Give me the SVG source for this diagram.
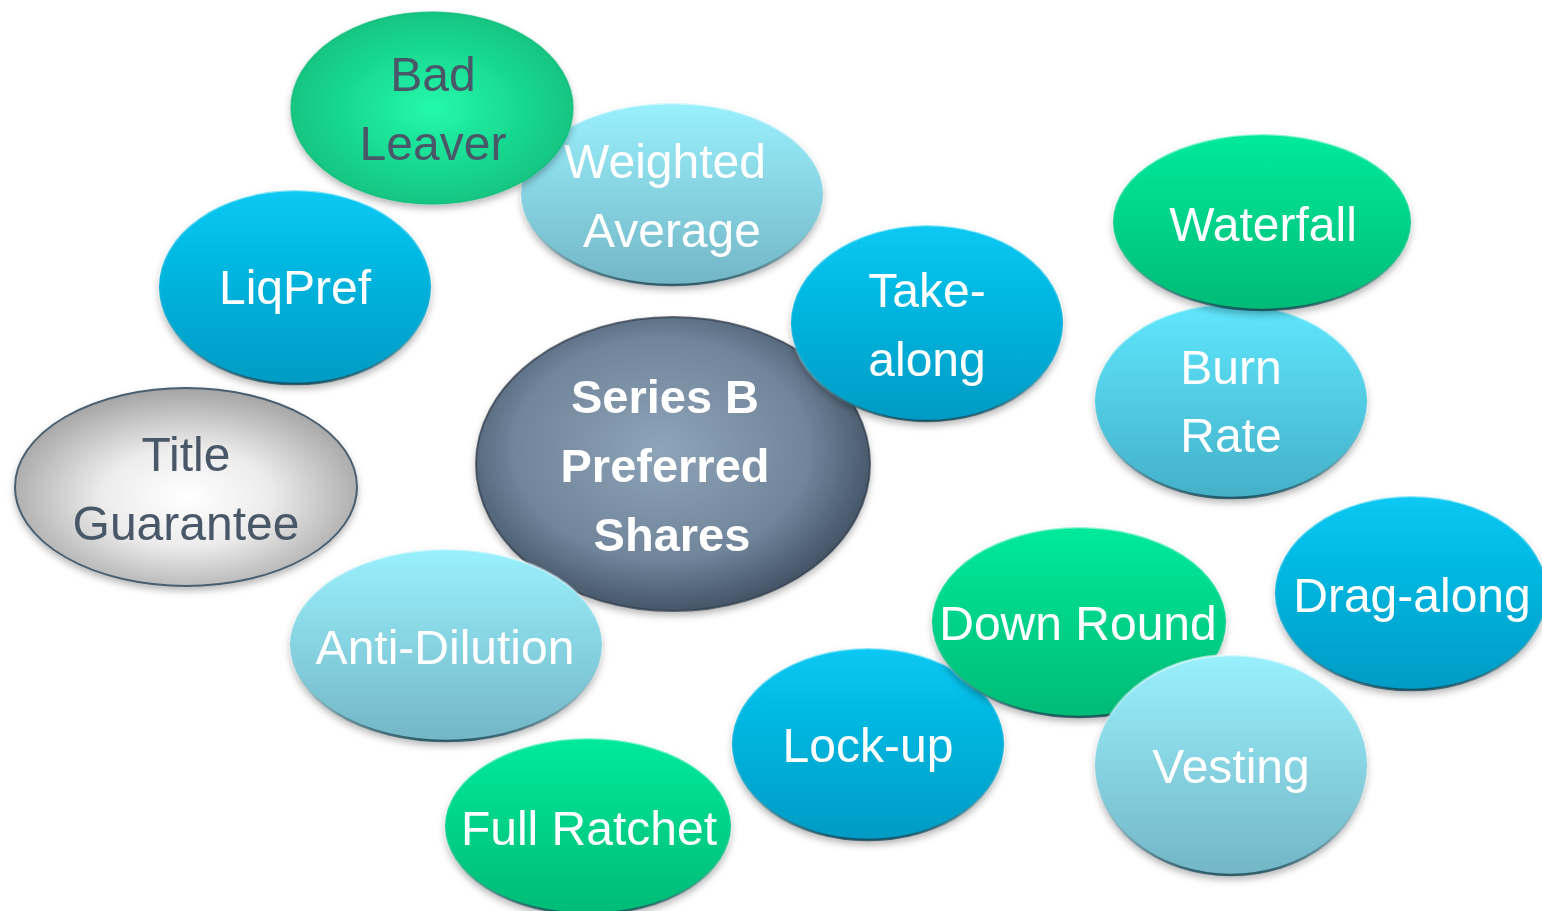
<svg xmlns="http://www.w3.org/2000/svg" width="1542" height="911" viewBox="0 0 1542 911">
<defs>
  <style>
    .t{font-family:"Liberation Sans",Arial,sans-serif;font-size:48px;text-anchor:middle;fill:#ffffff}
    .d{fill:#4a5868}
    .b{font-weight:bold;font-size:47px}
    .rim{stroke:url(#rim);stroke-width:2.5}
  </style>
  <filter id="sh" x="-10%" y="-10%" width="120%" height="125%">
    <feDropShadow dx="0" dy="4" stdDeviation="3.5" flood-color="#000" flood-opacity="0.28"/>
  </filter>
  <linearGradient id="rim" x1="0" y1="0" x2="0" y2="1">
    <stop offset="0" stop-color="#ffffff" stop-opacity="0.55"/>
    <stop offset="0.5" stop-color="#ffffff" stop-opacity="0"/>
    <stop offset="1" stop-color="#0a3a48" stop-opacity="0.75"/>
  </linearGradient>
  <linearGradient id="blue" x1="0" y1="0" x2="0" y2="1">
    <stop offset="0" stop-color="#07c9f3"/>
    <stop offset="1" stop-color="#049bc4"/>
  </linearGradient>
  <linearGradient id="cyan" x1="0" y1="0" x2="0" y2="1">
    <stop offset="0" stop-color="#9af0fd"/>
    <stop offset="1" stop-color="#73b6c6"/>
  </linearGradient>
  <linearGradient id="burn" x1="0" y1="0" x2="0" y2="1">
    <stop offset="0" stop-color="#5fe7fe"/>
    <stop offset="1" stop-color="#44b0c8"/>
  </linearGradient>
  <linearGradient id="green" x1="0" y1="0" x2="0" y2="1">
    <stop offset="0" stop-color="#06ea9b"/>
    <stop offset="1" stop-color="#05bb77"/>
  </linearGradient>
  <radialGradient id="bad" cx="0.5" cy="0.5" r="0.55">
    <stop offset="0" stop-color="#24f9ab"/>
    <stop offset="1" stop-color="#10c07d"/>
  </radialGradient>
  <radialGradient id="gray" cx="0.5" cy="0.55" r="0.55">
    <stop offset="0" stop-color="#ffffff"/>
    <stop offset="0.45" stop-color="#ececec"/>
    <stop offset="1" stop-color="#a4a4a4"/>
  </radialGradient>
  <radialGradient id="slate" cx="0.47" cy="0.45" r="0.58">
    <stop offset="0" stop-color="#8ea4b8"/>
    <stop offset="0.65" stop-color="#70849a"/>
    <stop offset="1" stop-color="#3e4e5f"/>
  </radialGradient>
</defs>
<rect width="1542" height="911" fill="#ffffff"/>
<g id="connectors"></g>

<g id="weighted-average" filter="url(#sh)">
  <ellipse cx="672" cy="194" rx="151" ry="91" fill="url(#cyan)" class="rim"/>
  <text class="t" x="665" y="178">Weighted</text>
  <text class="t" x="672" y="247">Average</text>
</g>
<g id="bad-leaver" filter="url(#sh)">
  <ellipse cx="432" cy="108" rx="141" ry="96" fill="url(#bad)" stroke="#0fb874" stroke-opacity="0.6" stroke-width="1.5"/>
  <text class="t d" x="433" y="91">Bad</text>
  <text class="t d" x="433" y="160">Leaver</text>
</g>
<g id="liqpref" filter="url(#sh)">
  <ellipse cx="295" cy="287" rx="136" ry="97" fill="url(#blue)" class="rim"/>
  <text class="t" x="295" y="304">LiqPref</text>
</g>
<g id="title-guarantee" filter="url(#sh)">
  <ellipse cx="186" cy="487" rx="171" ry="99" fill="url(#gray)" stroke="#4a5f6f" stroke-width="2"/>
  <text class="t d" x="186" y="471">Title</text>
  <text class="t d" x="186" y="540">Guarantee</text>
</g>
<g id="series-b" filter="url(#sh)">
  <ellipse cx="673" cy="464" rx="197" ry="147" fill="url(#slate)" stroke="#2e3b48" stroke-opacity="0.7" stroke-width="2"/>
  <text class="t b" x="665" y="413">Series B</text>
  <text class="t b" x="665" y="482">Preferred</text>
  <text class="t b" x="672" y="551">Shares</text>
</g>
<g id="take-along" filter="url(#sh)">
  <ellipse cx="927" cy="323" rx="136" ry="98" fill="url(#blue)" class="rim"/>
  <text class="t" x="927" y="307">Take-</text>
  <text class="t" x="927" y="376">along</text>
</g>
<g id="burn-rate" filter="url(#sh)">
  <ellipse cx="1231" cy="401" rx="136" ry="97" fill="url(#burn)" class="rim"/>
  <text class="t" x="1231" y="384">Burn</text>
  <text class="t" x="1231" y="452">Rate</text>
</g>
<g id="waterfall" filter="url(#sh)">
  <ellipse cx="1262" cy="222" rx="149" ry="88" fill="url(#green)" class="rim"/>
  <text class="t" x="1263" y="241">Waterfall</text>
</g>
<g id="anti-dilution" filter="url(#sh)">
  <ellipse cx="446" cy="645" rx="156" ry="96" fill="url(#cyan)" class="rim"/>
  <text class="t" x="445" y="664">Anti-Dilution</text>
</g>
<g id="full-ratchet" filter="url(#sh)">
  <ellipse cx="588" cy="826" rx="143" ry="88" fill="url(#green)" class="rim"/>
  <text class="t" x="589" y="845">Full Ratchet</text>
</g>
<g id="drag-along" filter="url(#sh)">
  <ellipse cx="1411" cy="593" rx="136" ry="97" fill="url(#blue)" class="rim"/>
  <text class="t" x="1412" y="612">Drag-along</text>
</g>
<g id="lock-up" filter="url(#sh)">
  <ellipse cx="868" cy="744" rx="136" ry="96" fill="url(#blue)" class="rim"/>
  <text class="t" x="868" y="762">Lock-up</text>
</g>
<g id="down-round" filter="url(#sh)">
  <ellipse cx="1079" cy="622" rx="147" ry="95" fill="url(#green)" class="rim"/>
  <text class="t" x="1078" y="640">Down Round</text>
</g>
<g id="vesting" filter="url(#sh)">
  <ellipse cx="1231" cy="765" rx="136" ry="110" fill="url(#cyan)" class="rim"/>
  <text class="t" x="1231" y="783">Vesting</text>
</g>
</svg>
